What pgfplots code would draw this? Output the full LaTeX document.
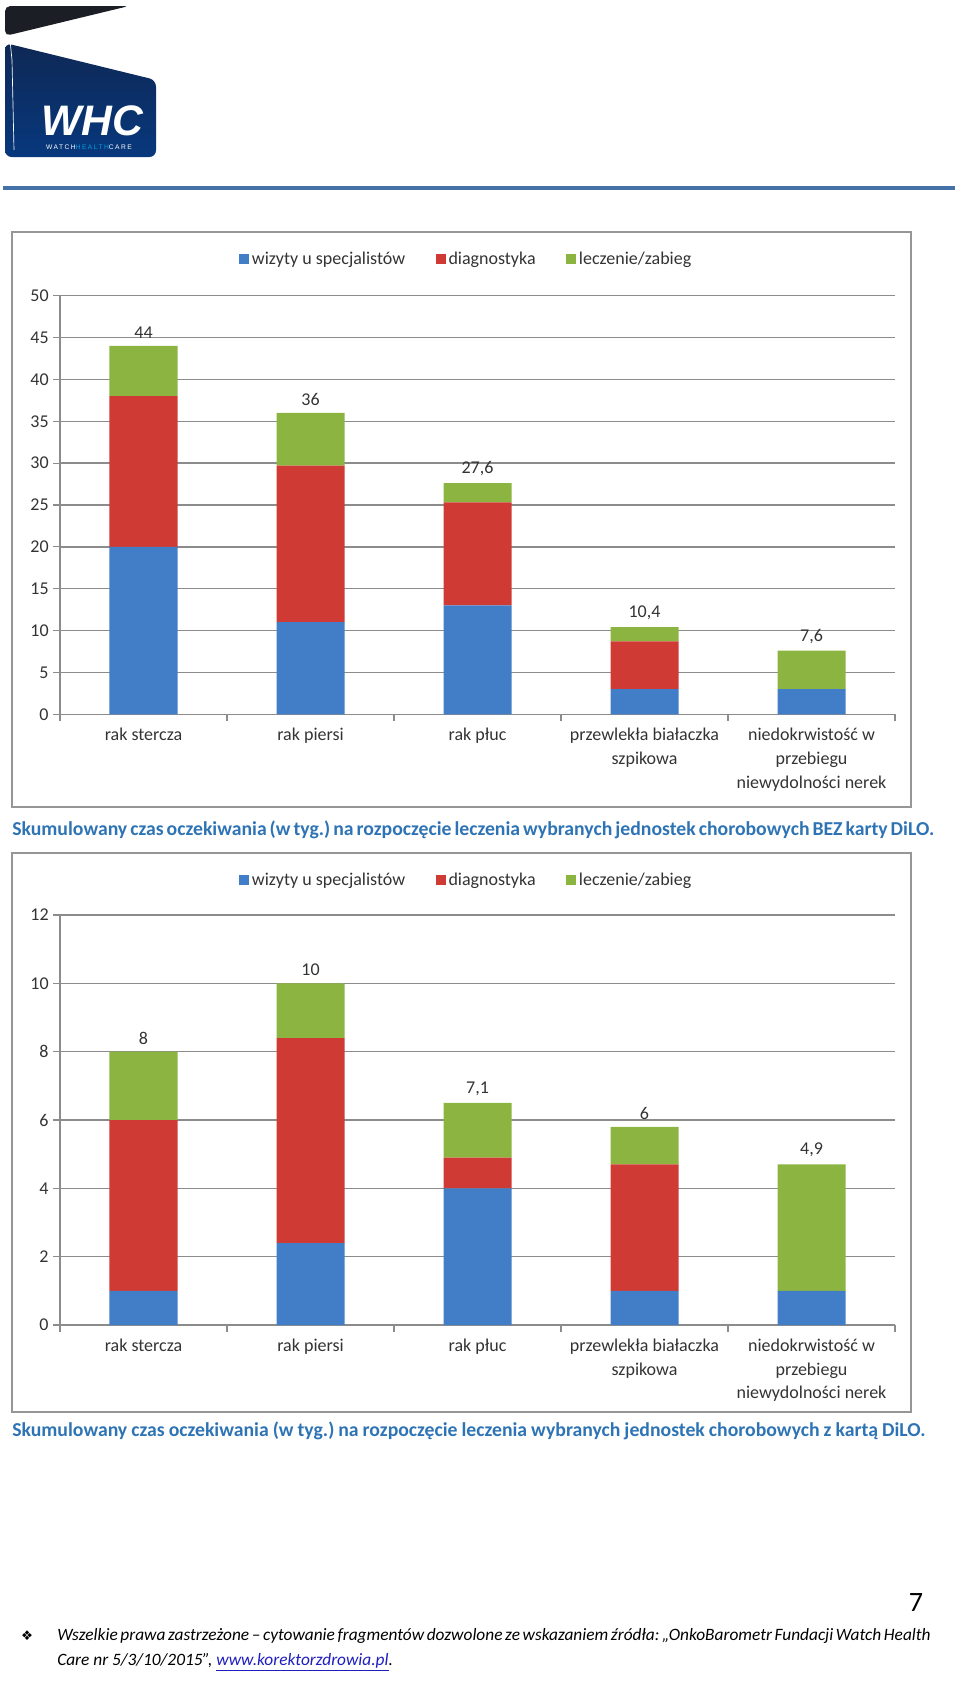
\documentclass[border=0pt]{standalone}
\usepackage{pgfplots}
\pgfplotsset{compat=1.18}
\usepackage{pgfplotstable}
\usepackage{fontspec}
\setmainfont{Carlito}
\newfontfamily\logofont{Liberation Sans}
\newfontfamily\logosmall[LetterSpace=22]{Liberation Sans}
\newfontfamily\symfont{DejaVu Sans}
\definecolor{cblue}{RGB}{66,126,200}
\definecolor{cred}{RGB}{208,58,52}
\definecolor{cgreen}{RGB}{140,180,64}
\definecolor{capblue}{RGB}{46,116,181}
\definecolor{gridgray}{RGB}{140,140,140}
\definecolor{framegray}{RGB}{150,150,150}
\definecolor{navytop}{RGB}{14,40,85}
\definecolor{navybot}{RGB}{8,56,125}
\definecolor{logoblack}{RGB}{28,30,38}
\definecolor{rule}{RGB}{68,114,168}
\definecolor{linkblue}{RGB}{30,30,190}
\definecolor{cyanlogo}{RGB}{0,160,225}

% top = height of the drawn bar, tot = printed total
\pgfplotstableread{
x blue red green top tot
0 20 18 6 44 44
1 11 18.7 6.3 36 36
2 13 12.3 2.3 27.6 27.6
3 3 5.7 1.7 10.4 10.4
4 3 0 4.6 7.6 7.6
}\dataA

\pgfplotstableread{
x blue red green top tot
0 1 5 2 8 8
1 2.4 6 1.6 10 10
2 4 0.9 1.6 6.5 7.1
3 1 3.7 1.1 5.8 6
4 1 0 3.7 4.7 4.9
}\dataB

\pgfplotsset{
  mychart/.style={
    scale only axis,
    width=626.25pt,
    ybar stacked,
    bar width=51pt,
    xmin=-0.5, xmax=4.5,
    ymin=0,
    xtick={-0.5,0.5,1.5,2.5,3.5,4.5},
    x tick label as interval,
    xticklabels={rak stercza, rak piersi, rak płuc, {przewlekła białaczka\\szpikowa}, {niedokrwistość w\\przebiegu\\niewydolności nerek}},
    axis x line*=bottom,
    axis y line*=left,
    axis line style={gridgray, line width=1pt, -},
    tick align=outside,
    major tick length=5pt,
    tick style={gridgray, line width=0.8pt},
    ymajorgrids,
    grid style={gridgray, line width=1.1pt},
    /pgf/number format/assume math mode=true,
    /pgf/number format/use comma,
    ticklabel style={font=\fontsize{13.5}{16.5}\selectfont, text=black!80},
    xticklabel style={align=center, font=\fontsize{13.5}{17.7}\selectfont, yshift=-2pt},
    legend columns=3,
    legend image code/.code={\fill[##1] (0pt,-3.75pt) rectangle (7.5pt,3.75pt);},
    legend style={draw=none, fill=none, anchor=center,
      font=\fontsize{13.5}{16}\selectfont, text=black!80,
      /tikz/every even column/.append style={column sep=21pt}},
  },
  labelaxis/.style={
    scale only axis, width=626.25pt, hide axis, clip=false,
    xmin=-0.5, xmax=4.5, ymin=0,
    /pgf/number format/assume math mode=true,
    /pgf/number format/use comma,
  },
  toplabels/.style={draw=none, mark=none, nodes near coords, point meta=explicit,
    every node near coord/.append style={anchor=south, font=\fontsize{13.5}{16}\selectfont, text=black!80, yshift=2pt}},
}

\begin{document}
\frenchspacing
\begin{tikzpicture}[x=0.75pt, y=0.75pt]
\useasboundingbox (0,0) rectangle (960,-1681);
\coordinate (A1) at (60,-714.3);
\coordinate (A2) at (60,-1325);

% logo
\fill[logoblack, rounded corners=4pt] (5,-36) -- (5,-6) -- (129,-6) -- cycle;
\shade[top color=navytop, bottom color=navybot, rounded corners=5pt] (5,-43) -- (156,-80) -- (156,-157) -- (5,-157) -- cycle;
\draw[white, line width=0.5pt] (10,-40) -- (12,-60) -- (14,-150);
\node[inner sep=0, white, anchor=center] at (92,-121) {\logofont\fontsize{32}{32}\selectfont\bfseries\itshape WHC};
\node[inner sep=0, anchor=center] at (89,-147) {\logosmall\fontsize{5}{6}\selectfont\textcolor{white}{WATCH}\textcolor{cyanlogo}{HEALTH}\textcolor{white}{CARE}};

% rule
\draw[rule, line width=2.4pt] (3,-188) -- (955,-188);

% frames
\draw[framegray, line width=1.1pt] (12,-232) rectangle (911,-807);
\draw[framegray, line width=1.1pt] (12,-853) rectangle (911,-1412);

% chart 1
\begin{axis}[mychart, at={(A1)}, anchor=south west,
  height=313.95pt, ymax=50, ytick={0,5,...,50},
  legend style={at={(0.487,1.088)}}]
\addplot[fill=cblue, draw=none] table[x=x, y=blue] {\dataA};
\addplot[fill=cred, draw=none] table[x=x, y=red] {\dataA};
\addplot[fill=cgreen, draw=none] table[x=x, y=green] {\dataA};
\legend{wizyty u specjalistów, diagnostyka, leczenie/zabieg}
\end{axis}
\begin{axis}[labelaxis, at={(A1)}, anchor=south west, height=313.95pt, ymax=50]
\addplot[toplabels] table[x=x, y=top, meta=tot] {\dataA};
\end{axis}

% chart 2
\begin{axis}[mychart, at={(A2)}, anchor=south west,
  height=307.5pt, ymax=12, ytick={0,2,...,12},
  legend style={at={(0.487,1.085)}}]
\addplot[fill=cblue, draw=none] table[x=x, y=blue] {\dataB};
\addplot[fill=cred, draw=none] table[x=x, y=red] {\dataB};
\addplot[fill=cgreen, draw=none] table[x=x, y=green] {\dataB};
\legend{wizyty u specjalistów, diagnostyka, leczenie/zabieg}
\end{axis}
\begin{axis}[labelaxis, at={(A2)}, anchor=south west, height=307.5pt, ymax=12]
\addplot[toplabels] table[x=x, y=top, meta=tot] {\dataB};
\end{axis}

% captions
\node[inner sep=0, anchor=west, text=capblue] at (12,-830)
  {\fontsize{14.8}{17}\selectfont\bfseries\makebox[674pt][s]{Skumulowany czas oczekiwania (w tyg.) na rozpoczęcie leczenia wybranych jednostek chorobowych BEZ karty DiLO.}};
\node[inner sep=0, anchor=west, text=capblue] at (12,-1431)
  {\fontsize{14.8}{17}\selectfont\bfseries\makebox[685pt][s]{Skumulowany czas oczekiwania (w tyg.) na rozpoczęcie leczenia wybranych jednostek chorobowych z kartą DiLO.}};

% page number
\node[inner sep=0, anchor=center] at (916,-1602) {\fontsize{21}{24}\selectfont 7};

% footer
\node[inner sep=0, anchor=center] at (27,-1636) {\symfont\fontsize{10}{12}\selectfont ❖};
\node[inner sep=0, anchor=west] at (57,-1636)
  {\fontsize{13}{15}\selectfont\itshape\makebox[651pt][s]{Wszelkie prawa zastrzeżone – cytowanie fragmentów dozwolone ze wskazaniem źródła: „OnkoBarometr Fundacji Watch Health}};
\node[inner sep=0, anchor=west] at (57,-1662)
  {\fontsize{13}{15}\selectfont\itshape Care nr 5/3/10/2015”, \textcolor{linkblue}{\underline{www.korektorzdrowia.pl}}.};
\end{tikzpicture}
\end{document}
